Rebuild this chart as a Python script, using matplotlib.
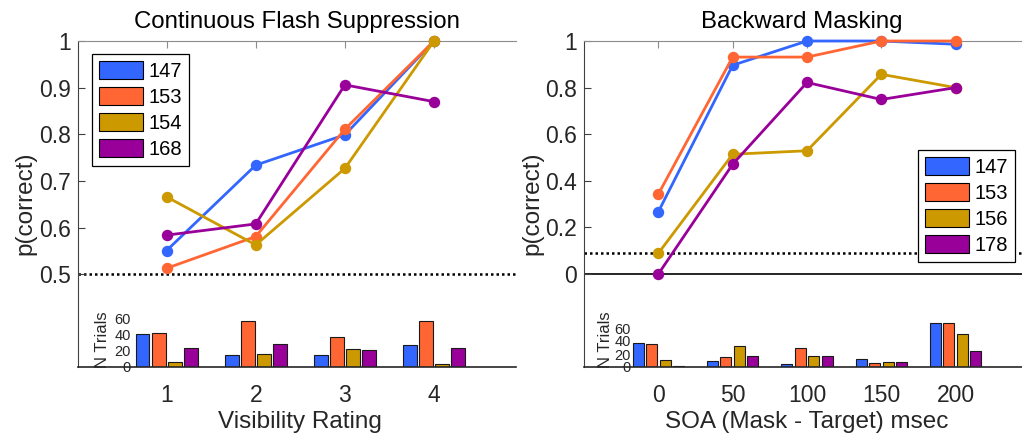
import numpy as np
import matplotlib
matplotlib.use('Agg')
import matplotlib.pyplot as plt

plt.rcParams['font.family'] = ['Liberation Sans', 'DejaVu Sans']

# Datos: Continuous Flash Suppression
cfs_ratings = [1, 2, 3, 4]
cfs_subjects = ['147', '153', '154', '168']
cfs_p147 = [0.551, 0.734, 0.799, 1.0]
cfs_p153 = [0.513, 0.581, 0.811, 1.0]
cfs_p154 = [0.666, 0.563, 0.727, 1.0]
cfs_p168 = [0.584, 0.608, 0.906, 0.870]
cfs_n147 = [41, 15, 15, 27]
cfs_n153 = [42, 58, 37, 58]
cfs_n154 = [6, 16, 22, 4]
cfs_n168 = [24, 29, 21, 24]
cfs_chance = 0.5

# Datos: Backward Masking
bm_soa = [0, 50, 100, 150, 200]
bm_subjects = ['147', '153', '156', '178']
bm_p147 = [0.267, 0.896, 1.0, 1.0, 0.986]
bm_p153 = [0.343, 0.931, 0.931, 1.0, 1.0]
bm_p156 = [0.089, 0.514, 0.529, 0.857, 0.80]
bm_p178 = [0.0, 0.471, 0.822, 0.749, 0.80]
bm_n147 = [37, 10, 4, 13, 68]
bm_n153 = [35, 15, 29, 6, 68]
bm_n156 = [11, 33, 17, 7, 51]
bm_n178 = [2, 17, 17, 8, 25]
bm_chance = 0.09

colors = ['#3366ff', '#ff6633', '#cc9900', '#990099']
text_col = '#262626'

W, H = 1022, 434
fig = plt.figure(figsize=(W / 100, H / 100), dpi=100)


def px_rect(x0, x1, ytop, ybot):
    return [x0 / W, 1 - ybot / H, (x1 - x0) / W, (ybot - ytop) / H]


def style_main(ax):
    ax.spines['right'].set_visible(False)
    ax.spines['bottom'].set_visible(False)
    ax.spines['top'].set_color('#8c8c8c')
    ax.spines['left'].set_color('#404040')
    ax.xaxis.tick_top()
    ax.tick_params(axis='x', direction='in', length=5, color='#8c8c8c', labeltop=False)
    ax.tick_params(axis='y', direction='in', length=5, color='#404040',
                   labelsize=16.5, labelcolor=text_col, pad=5)
    ax.patch.set_alpha(0)


def style_bars(ax, pad, label_x):
    for s in ['left', 'right', 'top']:
        ax.spines[s].set_visible(False)
    ax.spines['bottom'].set_color(text_col)
    ax.spines['bottom'].set_linewidth(1.2)
    ax.tick_params(axis='x', length=0, labelsize=16.5, labelcolor=text_col, pad=12)
    ax.tick_params(axis='y', length=0, labelsize=10.5, labelcolor=text_col, pad=pad)
    ax.set_yticks([0, 20, 40, 60])
    ax.patch.set_alpha(0)
    ax.text(label_x, 0.56, 'N Trials', rotation=90, ha='center', va='center',
            fontsize=12, color=text_col, transform=ax.transAxes)


def draw_lines(ax, x, series, labels):
    handles = []
    for vals, c, lab in zip(series, colors, labels):
        ax.plot(x, vals, '-o', color=c, lw=2.0, ms=7.2, clip_on=False, zorder=3)
        handles.append(plt.Rectangle((0, 0), 1, 1, facecolor=c, edgecolor='black', lw=0.8, label=lab))
    return handles


def draw_bars(ax, x, counts, offsets, width):
    x = np.array(x, dtype=float)
    for vals, c, off in zip(counts, colors, offsets):
        ax.bar(x + off, vals, width, color=c, edgecolor='#1a1a1a', linewidth=0.8)


# Panel izquierdo
ax1 = fig.add_axes(px_rect(77.5, 516, 41, 367))
style_main(ax1)
ax1.set_xlim(0, 4.92)
ax1.set_ylim(0.3014, 1)
ax1.set_xticks(cfs_ratings)
ax1.set_yticks([0.5, 0.6, 0.7, 0.8, 0.9, 1])
ax1.set_yticklabels(['0.5', '0.6', '0.7', '0.8', '0.9', '1'])
ax1.axhline(cfs_chance, color='black', ls=(0, (1, 1.2)), lw=1.8, zorder=1)
h1 = draw_lines(ax1, cfs_ratings, [cfs_p147, cfs_p153, cfs_p154, cfs_p168], cfs_subjects)
leg1 = ax1.legend(handles=h1, loc='upper left', bbox_to_anchor=(0.033, 0.96), borderaxespad=0,
                  fontsize=14.5, fancybox=False, framealpha=1, edgecolor='black',
                  handlelength=2.2, handleheight=1.0, handletextpad=0.25, labelspacing=0.3,
                  borderpad=0.35)
leg1.get_frame().set_linewidth(0.9)
leg1.set_zorder(5)

ax1b = fig.add_axes(px_rect(77.5, 516, 319, 367))
draw_bars(ax1b, cfs_ratings, [cfs_n147, cfs_n153, cfs_n154, cfs_n168], [-0.27, -0.09, 0.09, 0.27], 0.155)
ax1b.set_xlim(0, 4.92)
ax1b.set_ylim(0, 60)
ax1b.set_xticks(cfs_ratings)
style_bars(ax1b, -38.5, 0.056)

# Panel derecho
ax2 = fig.add_axes(px_rect(584, 1030, 41, 367))
style_main(ax2)
ax2.set_xlim(-50, 250)
ax2.set_ylim(-0.399, 1)
ax2.set_xticks(bm_soa)
ax2.set_yticks([0, 0.2, 0.4, 0.6, 0.8, 1])
ax2.set_yticklabels(['0', '0.2', '0.4', '0.6', '0.8', '1'])
ax2.axhline(0, color='black', lw=1.2, zorder=1)
ax2.axhline(bm_chance, color='black', ls=(0, (1, 1.2)), lw=1.8, zorder=1)
h2 = draw_lines(ax2, bm_soa, [bm_p147, bm_p153, bm_p156, bm_p178], bm_subjects)
leg2 = ax2.legend(handles=h2, loc='upper right', bbox_to_anchor=(0.966, 0.666), borderaxespad=0,
                  fontsize=14.5, fancybox=False, framealpha=1, edgecolor='black',
                  handlelength=2.2, handleheight=1.0, handletextpad=0.25, labelspacing=0.3,
                  borderpad=0.35)
leg2.get_frame().set_linewidth(0.9)
leg2.set_zorder(5)

ax2b = fig.add_axes(px_rect(584, 1030, 318.9, 367))
draw_bars(ax2b, bm_soa, [bm_n147, bm_n153, bm_n156, bm_n178], [-13.5, -4.5, 4.5, 13.5], 7.4)
ax2b.set_xlim(-50, 250)
ax2b.set_ylim(0, 74)
ax2b.set_xticks(bm_soa)
style_bars(ax2b, -33.8, 0.048)

# Titulos y etiquetas
fig.text(297 / W, 1 - 28 / H, 'Continuous Flash Suppression', ha='center', va='baseline', fontsize=17.3)
fig.text(802 / W, 1 - 28 / H, 'Backward Masking', ha='center', va='baseline', fontsize=17.3)
fig.text(300 / W, 1 - 428 / H, 'Visibility Rating', ha='center', va='baseline', fontsize=17.5, color=text_col)
fig.text(807 / W, 1 - 428 / H, 'SOA (Mask - Target) msec', ha='center', va='baseline', fontsize=17.5, color=text_col)
fig.text(25 / W, 1 - 203 / H, 'p(correct)', rotation=90, ha='center', va='center', fontsize=17.5, color=text_col)
fig.text(532 / W, 1 - 203 / H, 'p(correct)', rotation=90, ha='center', va='center', fontsize=17.5, color=text_col)

plt.savefig('out.png', dpi=100)
